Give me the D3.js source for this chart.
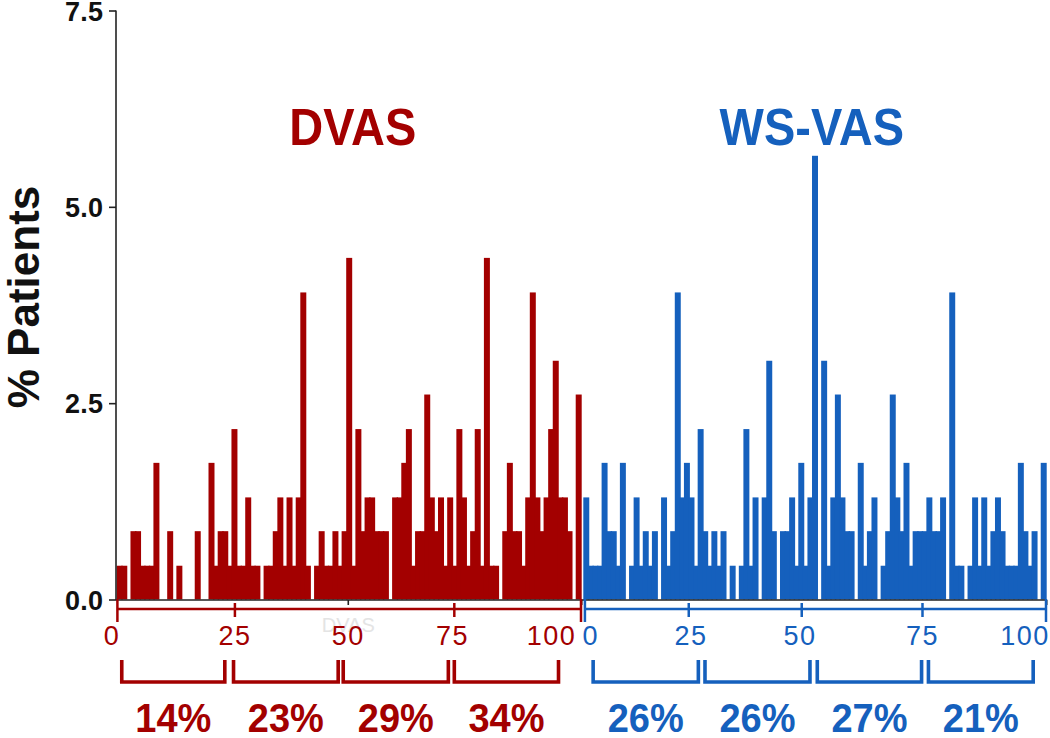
<!DOCTYPE html>
<html><head><meta charset="utf-8">
<script src="https://cdn.jsdelivr.net/npm/d3@7"></script>
<style>body{margin:0;background:#fff}svg{display:block}text{font-family:"Liberation Sans",Arial,sans-serif}</style>
</head><body><svg id="c" width="1050" height="738"></svg>
<script>
// VAS scores 0..100
const scores = d3.range(0, 101);
// % patients per score, DVAS
const dvas = [
0.43,0.43,0,0.87,0.87,0.43,0.43,0.43,1.74,0,
0,0.87,0,0.43,0,0,0,0.87,0,0,
1.74,0.43,0.87,0.87,0.43,2.17,0.43,0.43,1.30,0.43,
0.43,0,0.43,0.43,0.87,1.30,0.43,1.30,0.43,1.30,
3.91,0.43,0,0.43,0.87,0.43,0.43,0.87,0.43,0.87,
4.35,0.43,2.17,0.87,1.30,1.30,0.87,0.87,0.87,0,
1.30,1.30,1.74,2.17,0.43,0.87,0.87,2.61,1.30,0.87,
1.30,0.43,1.30,0.43,2.17,1.30,0.43,0.87,2.17,0.43,
4.35,0.43,0.43,0,0.87,1.74,0.87,0.87,0.43,1.30,
3.91,1.30,0.87,1.30,2.17,3.04,1.30,1.30,0.87,0,
2.61];
// % patients per score, WS-VAS
const wsvas = [
1.30,0.43,0.43,0.43,1.74,0.87,0.87,0.43,1.74,0,
0.43,1.30,0.43,0.87,0.43,0.87,0,1.30,0.43,0.87,
3.91,1.30,1.74,1.30,0.43,2.17,0.87,0.43,0.87,0.43,
0.87,0,0.43,0,0.43,2.17,0.43,1.30,0,1.30,
3.04,0.87,0,0.87,0.87,1.30,0.43,1.74,0.43,1.30,
5.65,0,3.04,0.43,1.30,2.61,1.30,0.87,0.87,0,
1.74,0.43,0.87,1.30,0,0.43,0.87,2.61,1.30,0.87,
1.74,0.43,0.87,0.87,0.87,1.30,0.87,0.87,1.30,0,
3.91,0.43,0.43,0,0.43,1.30,0.43,1.30,0.43,0.87,
1.30,0.87,0.43,0.43,0.43,1.74,0.87,0.43,0.87,0,
1.74];
const yTicks = [0, 2.5, 5.0, 7.5];
const xTickLabels = ["0","25","50","75","100"];
const dvasQuartiles = ["14%","23%","29%","34%"];
const wsvasQuartiles = ["26%","26%","27%","21%"];
const seriesNames = ["DVAS","WS-VAS"];

const RED = "#A30000", BLUE = "#1560BD", INK = "#222";
const svg = d3.select("#c");

const y = d3.scaleLinear().domain([0, 7.5]).range([599.5, 10.5]);
const xR = d3.scaleLinear().domain([0, 101]).range([117.4, 581.0]);
const xB = d3.scaleLinear().domain([0, 101]).range([584.0, 1046.0]);

function bars(data, xs, color){
  svg.append("g").selectAll("rect").data(scores.filter(s => data[s] > 0)).join("rect")
    .attr("x", s => xs(s) - 0.7)
    .attr("width", s => xs(s + 1) - xs(s) + 1.4)
    .attr("y", s => y(data[s]))
    .attr("height", s => y(0) - y(data[s]))
    .attr("fill", color);
}
bars(dvas, xR, RED);
bars(wsvas, xB, BLUE);

// y axis
const yAxis = svg.append("g").attr("transform", "translate(116,0)")
  .call(d3.axisLeft(y).tickValues(yTicks).tickFormat(d3.format(".1f")).tickSize(7).tickPadding(6));
yAxis.attr("font-size", null).attr("font-family", null);
yAxis.select(".domain").attr("stroke", INK).attr("stroke-width", 1.6).attr("d", "M0,10.5V600");
yAxis.selectAll(".tick line").attr("stroke", INK).attr("stroke-width", 1.6);
yAxis.selectAll(".tick text").attr("fill", "#111")
  .style("font-size", "27px").style("font-weight", "bold")
  .attr("textLength", 38).attr("lengthAdjust", "spacing").attr("dy", "0.36em");

svg.append("text").attr("transform", "translate(39,297) rotate(-90)")
  .attr("text-anchor", "middle").attr("font-size", 44).attr("font-weight", "bold").attr("fill", "#111")
  .text("% Patients");

// baseline
svg.append("line").attr("x1", 116).attr("x2", xB(101) + 1).attr("y1", 600).attr("y2", 600)
  .attr("stroke", INK).attr("stroke-width", 1.6);
[xR(50.3), xR(101) + 0.7, xB(101) + 0.7].forEach(px =>
  svg.append("line").attr("x1", px).attr("x2", px).attr("y1", 600).attr("y2", 605).attr("stroke", INK).attr("stroke-width", 1.6));

// titles (slightly tall letterforms as in the reference)
function title(txt, cx, color){
  svg.append("text").attr("transform", `translate(${cx},145) scale(1,1.12)`).attr("text-anchor", "middle")
    .attr("font-size", 47).attr("font-weight", "bold").attr("fill", color).text(txt);
}
title(seriesNames[0], xR(51.3), RED);
title(seriesNames[1], xB(49.8), BLUE);

// faint watermark
svg.append("text").attr("x", xR(50.3)).attr("y", 632).attr("text-anchor", "middle")
  .attr("font-size", 20).attr("fill", "#e4e4e4").text(seriesNames[0]);

// score axes under each histogram
function scoreAxis(xs, color, tickAt, labelAt, brackets, pcts){
  const g = svg.append("g");
  g.append("line").attr("x1", xs(tickAt[0])).attr("x2", xs(tickAt[4])).attr("y1", 609).attr("y2", 609)
    .attr("stroke", color).attr("stroke-width", 2.5);
  tickAt.forEach((t, i) => {
    if (t == null) return;
    const end = (i === 0 || i === 4);
    g.append("line").attr("x1", xs(t)).attr("x2", xs(t))
      .attr("y1", end ? 599 : 603).attr("y2", end ? 622 : 617)
      .attr("stroke", color).attr("stroke-width", 2.5);
  });
  xTickLabels.forEach((lab, i) => {
    g.append("text").attr("x", xs(labelAt[i])).attr("y", 645).attr("text-anchor", "middle")
      .attr("font-size", 27).attr("letter-spacing", 1.5).attr("fill", color).text(lab);
  });
  brackets.forEach((b, i) => {
    const x0 = xs(b[0]), x1 = xs(b[1]);
    g.append("path").attr("d", `M${x0},660V682H${x1}V660`).attr("fill", "none")
      .attr("stroke", color).attr("stroke-width", 3.6);
    g.append("text").attr("transform", `translate(${(x0 + x1) / 2},732) scale(1,1.06)`).attr("text-anchor", "middle")
      .attr("font-size", 38).attr("font-weight", "bold").attr("fill", color).text(pcts[i]);
  });
}
scoreAxis(xR, RED, [0, 25.6, null, 73.4, 101], [-1.2, 25.6, 50.3, 73, 94.6],
  [[0.95, 23.4], [25.3, 48.1], [49.2, 72.1], [73.4, 96.1]], dvasQuartiles);
scoreAxis(xB, BLUE, [0.2, 22.9, 47.6, 74, 101], [1.5, 23.4, 47.2, 74, 96.4],
  [[2.0, 25.0], [26.45, 49.4], [51.0, 73.8], [75.3, 98.2]], wsvasQuartiles);
</script></body></html>
